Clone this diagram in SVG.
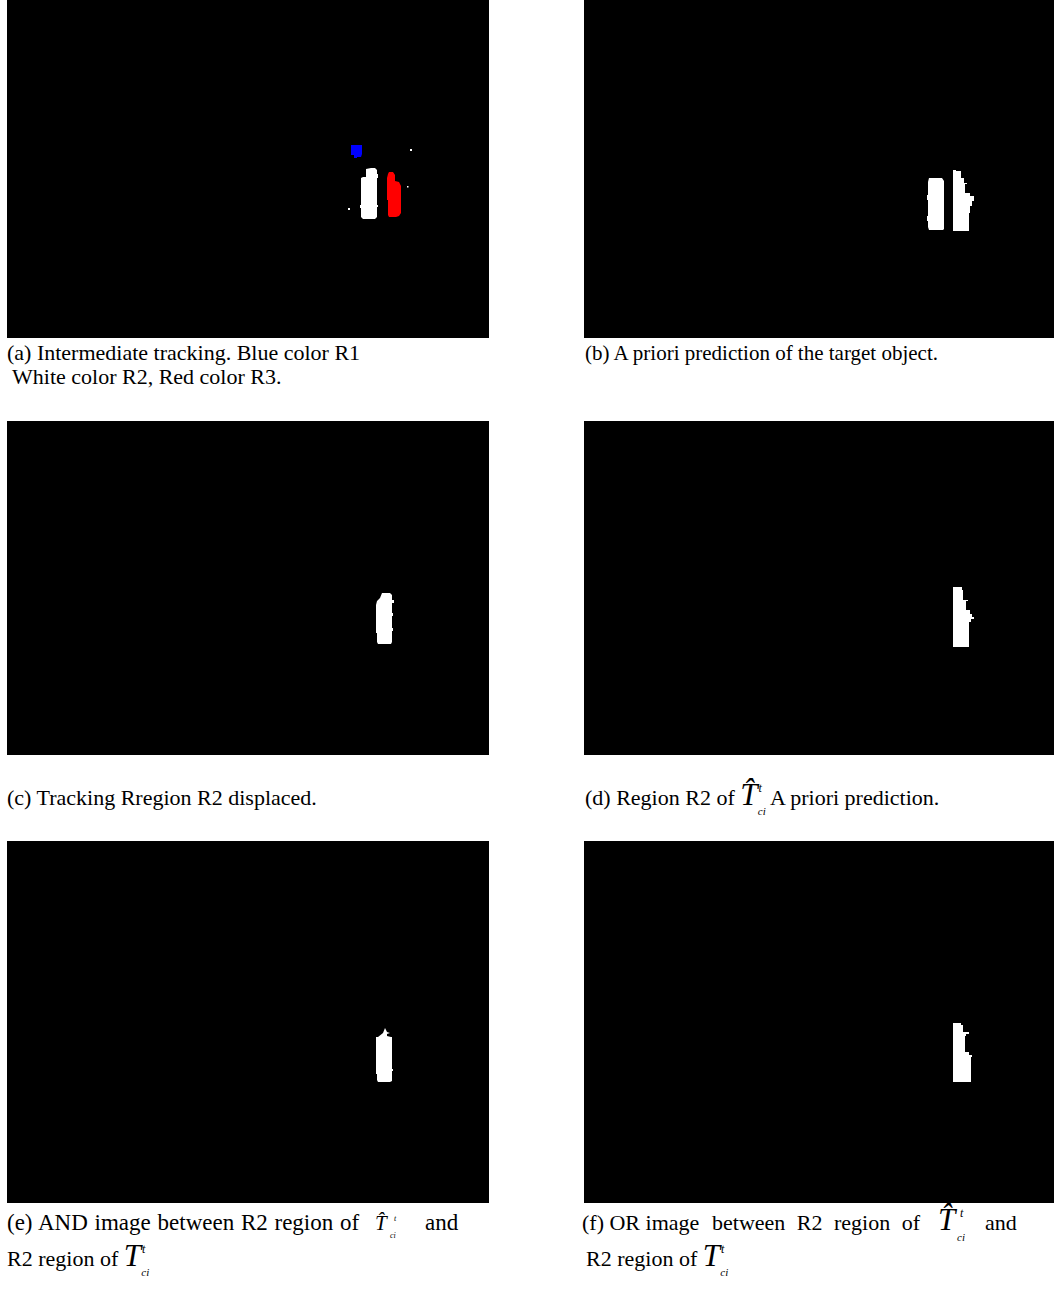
<svg xmlns="http://www.w3.org/2000/svg" width="1054" height="1294" viewBox="0 0 1054 1294">
<style>
.bg{fill:#000}
.w{fill:#fff}
.cap{font-family:"Liberation Serif","Times New Roman",serif;font-size:22px;fill:#000}
.T{font-style:italic;font-size:31px}
.Ts{font-style:italic;font-size:21px}
.sup{font-style:italic;font-size:12px}
.sub{font-style:italic;font-size:11px}
.tiny{font-style:italic;font-size:8px}
</style>
<rect width="1054" height="1294" fill="#fff"/>
<g id="panel-a">
<rect class="bg" x="7" y="0" width="482" height="338"/>
<path fill="#0000ff" d="M351,145 H362 V154 L361,157 H357 V158 H354 V155 H351 Z"/>
<path class="w" d="M366,169 L371,168 H375 L377,170 V174 H378 V178 H377 V205 H378 V207 H377 V217 L375,219 H363 L361,217 V208 H360 V205 H361 V178 L363,177 H366 Z"/>
<path fill="#ff0000" d="M389,172 H393 L395,175 V181 L399,182 L401,186 V213 L399,216 L396,217 H389 L388,215 V200 H387 V178 L388,174 Z"/>
<rect class="w" x="410" y="149" width="2" height="2"/>
<rect class="w" x="407" y="186" width="1.5" height="1.5"/>
<rect class="w" x="348" y="208" width="2" height="2"/>
</g>
<g id="panel-b">
<rect class="bg" x="584" y="0" width="470" height="338"/>
<path class="w" d="M929,178 H942 L944,181 V229 L943,230 H929 L928,227 V221 H927 V216 H928 V200 H927 V195 H928 V182 Z"/>
<path class="w" d="M953,170 H956 V171 H961 V178 H964 V183 H967 V184 H965 V193 H970 V196 H974 V201 H972 V206 H970 V213 H969 V231 H953 Z"/>
</g>
<g id="panel-c">
<rect class="bg" x="7" y="421" width="482" height="334"/>
<path class="w" d="M382,593 H390 L392,595 V600 H394 V603 H392 V613 H393 V616 H392 V628 H393 V631 H392 V642 L391,644 H378 L377,642 V633 H376 V605 L377,601 L380,598 Z"/>
</g>
<g id="panel-d">
<rect class="bg" x="584" y="421" width="470" height="334"/>
<path class="w" d="M953,587 H962 V590 H963 V600 H968 V601 H966 V610 H970 V614 H972 V617 H974 V619 H971 V622 H969 V647 H953 Z"/>
</g>
<g id="panel-e">
<rect class="bg" x="7" y="841" width="482" height="362"/>
<path class="w" d="M385,1028 L387,1032 L390,1033 L387,1034 V1036 L391,1037 H392 V1069 H393 V1071 H392 V1081 L390,1082 H378 L377,1080 V1074 H376 V1037 H378 L383,1033 Z"/>
</g>
<g id="panel-f">
<rect class="bg" x="584" y="841" width="470" height="362"/>
<path class="w" d="M953,1023 H961 V1025 H963 V1032 H969 V1034 H966 V1036 H965 V1052 H969 V1055 H972 V1057 H971 V1082 H953 Z"/>
</g>
<g id="captions" class="cap">
<text x="7" y="360">(a) Intermediate tracking. Blue color R1</text>
<text x="12" y="384">White color R2, Red color R3.</text>
<text x="585" y="360" font-size="21">(b) A priori prediction of the target object.</text>
<text x="7" y="805">(c) Tracking Rregion R2 displaced.</text>
<text x="585" y="805">(d) Region R2 of <tspan class="T">T̂</tspan><tspan class="sup" dx="1" dy="-13">t</tspan><tspan class="sub" dx="-4" dy="23">ci</tspan><tspan dy="-10"> A priori prediction.</tspan></text>
<text x="7" y="1230" font-size="23" word-spacing="1">(e) AND image between R2 region of</text>
<text class="Ts" x="375" y="1230">T̂</text>
<text class="tiny" x="394" y="1221">t</text>
<text class="tiny" x="390" y="1238">ci</text>
<text x="425" y="1230" font-size="23">and</text>
<text x="7" y="1266">R2 region of <tspan class="T">T</tspan><tspan class="sup" dx="1" dy="-13">t</tspan><tspan class="sub" dx="-4" dy="23">ci</tspan></text>
<text x="582" y="1230">(f) OR image</text>
<text x="712" y="1230" word-spacing="6">between R2 region of</text>
<text class="T" x="938" y="1230">T̂</text>
<text class="sup" x="960" y="1217">t</text>
<text class="sub" x="957" y="1241">ci</text>
<text x="985" y="1230">and</text>
<text x="586" y="1266">R2 region of <tspan class="T">T</tspan><tspan class="sup" dx="1" dy="-13">t</tspan><tspan class="sub" dx="-4" dy="23">ci</tspan></text>
</g>
</svg>
